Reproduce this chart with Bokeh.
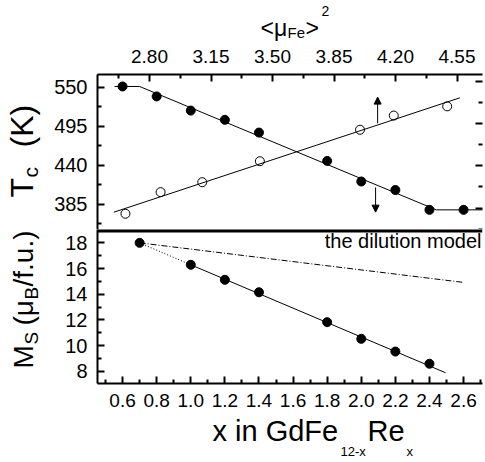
import math
from bokeh.plotting import figure
from bokeh.models import (Range1d, LinearAxis, FixedTicker, Label, Arrow, NormalHead,
                          Span, NumeralTickFormatter)
from bokeh.layouts import column, row
from bokeh.embed import file_html
from bokeh.resources import INLINE

FONT = "Liberation Sans"

# ---------------- data ----------------
# Top panel: Curie temperature
x_tc = [0.6, 0.8, 1.0, 1.2, 1.4, 1.8, 2.0, 2.2, 2.4, 2.6]
tc_filled = [551, 537, 517, 504, 486, 446, 417, 405, 377, 377]
tc_fit_x = [0.553, 0.70, 2.44, 2.75]
tc_fit_y = [551, 551, 377, 377]

mu2 = [2.663, 2.863, 3.10, 3.428, 3.998, 4.19, 4.494]
tc_open = [371.5, 402, 416, 445.6, 490, 510, 523]
mu2_fit_x = [2.597, 4.566]
tc_open_fit_y = [373.7, 535]

# arrows (x on bottom scale, Tc start -> end)
arrow_x = [2.096, 2.084]
arrow_y0 = [499, 408.6]
arrow_y1 = [536, 373.8]

# Bottom panel: saturation magnetisation
x_ms = [0.7, 1.0, 1.2, 1.4, 1.8, 2.0, 2.2, 2.4]
ms = [18.0, 16.29, 15.12, 14.15, 11.82, 10.52, 9.53, 8.58]
ms_fit_x = [1.0, 2.494]
ms_fit_y = [16.29, 7.88]
ms_dot_x = [0.7, 1.0]
ms_dot_y = [18.0, 16.29]
dilution_x = [0.7, 2.592]
dilution_y = [18.0, 14.93]

# ticks
x_major = [0.6, 0.8, 1.0, 1.2, 1.4, 1.6, 1.8, 2.0, 2.2, 2.4, 2.6]
x_minor = [0.5, 0.7, 0.9, 1.1, 1.3, 1.5, 1.7, 1.9, 2.1, 2.3, 2.5, 2.7]
mu_major = [2.80, 3.15, 3.50, 3.85, 4.20, 4.55]
mu_minor = [2.625, 2.975, 3.325, 3.675, 4.025, 4.375]
tc_major = [385, 440, 495, 550]
tc_minor = [357.5, 412.5, 467.5, 522.5]
tc_right_major = [379.4, 439.6, 498.8, 558]
tc_right_minor = [349.7, 409.5, 469.2, 528.4]
ms_major = [8, 10, 12, 14, 16, 18]
ms_minor = [9, 11, 13, 15, 17]

X_RANGE = (0.453, 2.711)
MU_RANGE = (2.504, 4.695)
TC_RANGE = (349.3, 567.9)
MS_RANGE = (7.04, 19.04)

# page layout (px)
LEFT_W = 46
FRAME_L = 97
TITLE_H = 41
TOP_B = 33
TOP_FH = 155
BOT_FH = 154
BOT_B = 31
XLAB_H = 46
COL_W = 438
TOTAL_H = TITLE_H + TOP_B + TOP_FH + BOT_FH + BOT_B + XLAB_H


def style_axis(ax, fs="19px", standoff=10):
    ax.axis_line_width = 2
    ax.axis_line_color = "black"
    ax.major_tick_in = 7
    ax.major_tick_out = 0
    ax.minor_tick_in = 4
    ax.minor_tick_out = 0
    ax.major_tick_line_width = 2
    ax.minor_tick_line_width = 2
    ax.major_tick_line_color = "black"
    ax.minor_tick_line_color = "black"
    ax.major_label_text_font = FONT
    ax.major_label_text_font_size = fs
    ax.major_label_text_color = "black"
    ax.major_label_standoff = standoff


def txt(p, s, px, py, fs, fl, fb, rotated=False, align="left"):
    """Place text with its baseline start at page point (px, py).
    fl / fb: page x of the frame's left edge, page y of the frame's bottom edge."""
    k = 0.37 * fs
    sx = px - fl
    sy = fb - py
    if rotated:
        sx -= k
    else:
        sy += k
    p.add_layout(Label(x=sx, y=sy, x_units="screen", y_units="screen", text=s,
                       text_font=FONT, text_font_size=f"{fs}px", text_color="black",
                       angle=(math.pi / 2 if rotated else 0.0), text_align=align,
                       text_baseline="alphabetic"))


def strip(w, h):
    s = figure(width=w, height=h, x_range=Range1d(0, w), y_range=Range1d(0, h),
               x_axis_location=None, y_axis_location=None,
               min_border=0, min_border_left=0, min_border_right=0,
               min_border_top=0, min_border_bottom=0,
               output_backend="svg", toolbar_location=None)
    s.outline_line_color = None
    s.grid.visible = False
    s.background_fill_color = "white"
    s.border_fill_color = "white"
    return s


# ---------------- top panel ----------------
top = figure(frame_width=385, frame_height=TOP_FH,
             x_range=Range1d(*X_RANGE), y_range=Range1d(*TC_RANGE),
             x_axis_location=None, y_axis_location="left",
             min_border_left=FRAME_L - LEFT_W, min_border_top=TOP_B,
             min_border_bottom=0, min_border_right=2,
             output_backend="svg", toolbar_location=None)
top.outline_line_color = None
top.grid.visible = False
top.background_fill_color = "white"
top.border_fill_color = "white"

top.extra_x_ranges = {"mu": Range1d(*MU_RANGE)}
ax_top = LinearAxis(x_range_name="mu",
                    ticker=FixedTicker(ticks=mu_major, minor_ticks=mu_minor),
                    formatter=NumeralTickFormatter(format="0.00"))
style_axis(ax_top, "19px", 12)
top.add_layout(ax_top, "above")

ax_l = top.yaxis[0]
ax_l.ticker = FixedTicker(ticks=tc_major, minor_ticks=tc_minor)
style_axis(ax_l, "20px", 10)

ax_r = LinearAxis(ticker=FixedTicker(ticks=tc_right_major, minor_ticks=tc_right_minor))
style_axis(ax_r, "1px", 0)
ax_r.major_label_overrides = {v: "" for v in tc_right_major}
ax_r.axis_line_color = None
top.add_layout(ax_r, "right")

top.line(tc_fit_x, tc_fit_y, line_color="black", line_width=1)
top.scatter(x_tc, tc_filled, marker="circle", size=9, fill_color="black", line_color="black")
top.line(mu2_fit_x, tc_open_fit_y, line_color="black", line_width=1, x_range_name="mu")
top.scatter(mu2, tc_open, marker="circle", size=9, fill_color=None, line_color="black",
            line_width=1, x_range_name="mu")

for ax_, y0, y1 in zip(arrow_x, arrow_y0, arrow_y1):
    top.add_layout(Arrow(end=NormalHead(size=7, fill_color="black", line_color="black"),
                         x_start=ax_, y_start=y0, x_end=ax_, y_end=y1,
                         line_color="black", line_width=1))

# ---------------- bottom panel ----------------
bot = figure(frame_width=385, frame_height=BOT_FH,
             x_range=Range1d(*X_RANGE), y_range=Range1d(*MS_RANGE),
             min_border_left=FRAME_L - LEFT_W, min_border_top=0,
             min_border_bottom=BOT_B, min_border_right=2,
             output_backend="svg", toolbar_location=None)
bot.outline_line_color = None
bot.grid.visible = False
bot.background_fill_color = "white"
bot.border_fill_color = "white"

ax_b = bot.xaxis[0]
ax_b.ticker = FixedTicker(ticks=x_major, minor_ticks=x_minor)
ax_b.formatter = NumeralTickFormatter(format="0.0")
style_axis(ax_b, "19px", 10)

ax_bl = bot.yaxis[0]
ax_bl.ticker = FixedTicker(ticks=ms_major, minor_ticks=ms_minor)
style_axis(ax_bl, "20px", 10)

bot.add_layout(Span(location=MS_RANGE[1], dimension="width", line_color="black", line_width=6))

bot.line(dilution_x, dilution_y, line_color="black", line_width=1, line_dash="6 2 1 2")
bot.line(ms_dot_x, ms_dot_y, line_color="black", line_width=1, line_dash="1 2")
bot.line(ms_fit_x, ms_fit_y, line_color="black", line_width=1)
bot.scatter(x_ms, ms, marker="circle", size=9, fill_color="black", line_color="black")

BOT_FRAME_BOTTOM = TITLE_H + TOP_B + TOP_FH + BOT_FH
txt(bot, "the dilution model", 481, 248, 20, FRAME_L, BOT_FRAME_BOTTOM, align="right")

# ---------------- title strips ----------------
title_fig = strip(COL_W, TITLE_H)
txt(title_fig, "<\u03bc", 260, 36, 23, FRAME_L, TITLE_H)
txt(title_fig, "Fe", 287, 37.5, 15, FRAME_L, TITLE_H)
txt(title_fig, ">", 305, 36, 23, FRAME_L, TITLE_H)
txt(title_fig, "2", 321, 16, 14, FRAME_L, TITLE_H)

xlab_fig = strip(COL_W, XLAB_H)
txt(xlab_fig, "x in GdFe", 212, 441, 29, FRAME_L, TOTAL_H)
txt(xlab_fig, "12-x", 340, 456, 13, FRAME_L, TOTAL_H)
txt(xlab_fig, "Re", 367, 441, 29, FRAME_L, TOTAL_H)
txt(xlab_fig, "x", 406, 456, 13, FRAME_L, TOTAL_H)

left_fig = strip(LEFT_W, TOTAL_H)
txt(left_fig, "T", 33, 197, 32, 0, TOTAL_H, rotated=True)
txt(left_fig, "c", 38, 177, 21, 0, TOTAL_H, rotated=True)
txt(left_fig, "(K)", 33, 147, 32, 0, TOTAL_H, rotated=True)
txt(left_fig, "M", 33, 368, 28, 0, TOTAL_H, rotated=True)
txt(left_fig, "S", 38, 344, 19, 0, TOTAL_H, rotated=True)
txt(left_fig, "(\u03bc", 33, 325, 28, 0, TOTAL_H, rotated=True)
txt(left_fig, "B", 38, 299, 19, 0, TOTAL_H, rotated=True)
txt(left_fig, "/f.u.)", 33, 286, 28, 0, TOTAL_H, rotated=True)

layout = row(left_fig, column(title_fig, top, bot, xlab_fig, spacing=0), spacing=0)
open("out.html", "w").write(file_html(layout, INLINE))
